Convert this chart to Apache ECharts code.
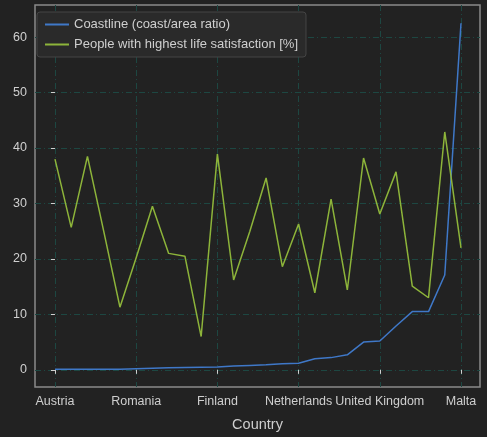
<!DOCTYPE html>
<html>
<head>
<meta charset="utf-8">
<script src="https://cdn.jsdelivr.net/npm/echarts@6/dist/echarts.min.js"></script>
<style>html,body{margin:0;background:#222222}#c{width:487px;height:437px}</style>
</head>
<body>
<div id="c"></div>
<script>
const countries = ['Austria', 'Czechia', 'Hungary', 'Luxembourg', 'Slovakia', 'Romania', 'Poland', 'Bulgaria', 'Lithuania', 'Slovenia',
  'Finland', 'Belgium', 'Germany', 'Latvia', 'France', 'Netherlands', 'Spain', 'Portugal', 'Sweden', 'Ireland',
  'United Kingdom', 'Italy', 'Croatia', 'Estonia', 'Cyprus', 'Malta'];
const coastline = [0.1, 0.1, 0.1, 0.1, 0.1, 0.2, 0.3, 0.35, 0.4, 0.45,
  0.5, 0.7, 0.8, 0.9, 1.1, 1.2, 2.0, 2.2, 2.7, 5.0,
  5.2, 7.9, 10.5, 10.5, 17.1, 62.5];
const satisfaction = [38, 25.7, 38.5, 25, 11.3, 20.2, 29.5, 21, 20.5, 6,
  38.9, 16.2, 25, 34.6, 18.6, 26.3, 13.9, 30.8, 14.4, 38.2,
  28.1, 35.7, 15.1, 13, 42.9, 22];

const font = 'Liberation Sans';
const chart = echarts.init(document.getElementById('c'));
const gridLine = {show: true, showMinLine: false, showMaxLine: false,
  lineStyle: {color: '#1d4742', type: [6, 3, 1, 3], width: 1}};
chart.setOption({
  backgroundColor: '#222222',
  animation: false,
  grid: {left: 35, right: 7, top: 5, bottom: 50, show: true, borderColor: '#8a8a8a', borderWidth: 1.5},
  legend: {
    orient: 'vertical', left: 37, top: 12, padding: [6, 8, 6, 8], itemGap: 7,
    backgroundColor: '#2a2a2a', borderColor: '#444', borderWidth: 1, borderRadius: 3,
    itemWidth: 24, itemHeight: 2, icon: 'rect',
    textStyle: {color: '#cfcfcf', fontSize: 13, fontFamily: font},
    data: ['Coastline (coast/area ratio)', 'People with highest life satisfaction [%]']
  },
  xAxis: {
    type: 'value', min: -1.23, max: 26.17, splitNumber: 5,
    name: 'Country', nameLocation: 'middle', nameGap: 30,
    nameTextStyle: {color: '#cfcfcf', fontSize: 14.5, fontFamily: font},
    axisLine: {show: false},
    axisTick: {show: true, length: 4, lineStyle: {color: '#cfcfcf'}},
    axisLabel: {color: '#cfcfcf', fontSize: 12.5, fontFamily: font, showMinLabel: false, showMaxLabel: false,
      formatter: v => (Number.isInteger(v) && countries[v]) ? countries[v] : ''},
    splitLine: gridLine
  },
  yAxis: {
    type: 'value', min: -3.1, max: 65.8, splitNumber: 7,
    axisLine: {show: false},
    axisTick: {show: true, length: 4, lineStyle: {color: '#cfcfcf'}},
    axisLabel: {color: '#cfcfcf', fontSize: 12.5, fontFamily: font, showMinLabel: false, showMaxLabel: false},
    splitLine: gridLine
  },
  series: [
    {name: 'Coastline (coast/area ratio)', type: 'line', showSymbol: false,
      data: coastline.map((v, i) => [i, v]), lineStyle: {color: '#3f78c8', width: 1.5}, itemStyle: {color: '#3f78c8'}},
    {name: 'People with highest life satisfaction [%]', type: 'line', showSymbol: false,
      data: satisfaction.map((v, i) => [i, v]), lineStyle: {color: '#8db43a', width: 1.5}, itemStyle: {color: '#8db43a'}}
  ]
});
</script>
</body>
</html>
